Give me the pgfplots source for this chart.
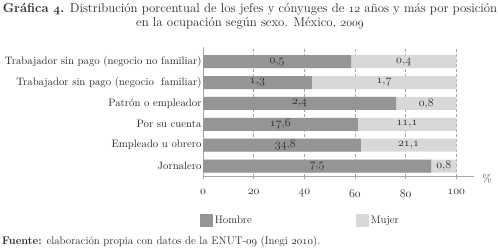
\documentclass[border=0pt]{standalone}
\usepackage{pgfplots}
\pgfplotsset{compat=1.18}
\definecolor{hombre}{RGB}{148,149,151}
\definecolor{mujer}{RGB}{214,216,218}
\definecolor{axisgray}{RGB}{165,165,165}
\definecolor{txt}{RGB}{40,40,40}
\DeclareRobustCommand{\on}[1]{\ensuremath{\mathnormal{#1}}}
\DeclareRobustCommand{\osn}[2]{\ensuremath{\mathnormal{#1}{,}\mathnormal{#2}}}
\begin{document}
\begin{tikzpicture}
\useasboundingbox (0bp,0bp) rectangle (498bp,252bp);
\node[txt, font=\fontsize{12.9}{15}\selectfont, inner sep=0pt] at (250bp,243bp) {\textbf{Gráfica {\boldmath\on{4}}.} Distribución porcentual de los jefes y cónyuges de \on{12} años y más por posición};
\node[txt, font=\fontsize{12.9}{15}\selectfont, inner sep=0pt] at (250bp,229bp) {en la ocupación según sexo. México, \on{2009}};
\node[txt, font=\fontsize{11}{13}\selectfont, inner sep=0pt, anchor=west] at (2bp,10bp) {\textbf{Fuente:} elaboración propia con datos de la ENUT-\on{09} (Inegi \on{2010}).};
\begin{axis}[
  at={(203bp,75.5bp)}, anchor=south west,
  scale only axis, width=271bp, height=129.5bp,
  xmin=0, xmax=107, ymin=-0.5, ymax=5.7,
  axis x line*=bottom, axis y line*=left,
  axis line style={axisgray, line width=0.6pt},
  xtick={0,20,40,60,80,100},
  xticklabels={\on{0},\on{20},\on{40},\on{60},\on{80},\on{100}},
  xtick align=center, major tick length=5bp,
  x tick style={axisgray, line width=0.6pt},
  xmajorgrids, grid style={axisgray, densely dashed, line width=0.5pt},
  ytick={0,1,2,3,4,5},
  yticklabels={Jornalero, Empleado u obrero, Por su cuenta, Patrón o empleador, Trabajador sin pago (negocio\ \ familiar), Trabajador sin pago (negocio no familiar)},
  y tick style={draw=none},
  tick label style={txt, font=\fontsize{10.8}{13}\selectfont},
  xticklabel style={yshift=-7bp, font=\fontsize{12.5}{14}\selectfont},
  yticklabel style={xshift=2bp},
  xlabel={\%},
  xlabel style={at={(axis description cs:1,0)}, anchor=west, xshift=5bp, yshift=-2bp, txt, font=\fontsize{11}{13}\selectfont},
  legend columns=2,
  legend style={draw=none, fill=none, at={(axis description cs:-0.012,-0.285)}, anchor=north west, inner sep=0pt, font=\fontsize{11}{13}\selectfont, text=txt,
    /tikz/every even column/.append style={column sep=102bp}},
  legend image code/.code={\fill[#1] (0bp,-6.5bp) rectangle (13bp,6.5bp);},
  legend cell align=left,
]
\addlegendimage{fill=hombre, draw=none}
\addlegendentry{Hombre}
\addlegendimage{fill=mujer, draw=none}
\addlegendentry{Mujer}
% Mujer (full width, drawn first)
\addplot[xbar, bar width=13bp, bar shift=0pt, fill=mujer, draw=none, forget plot] coordinates {
(100,0) (100,1) (100,2) (100,3) (100,4) (100,5)};
% Hombre share (%)
\addplot[xbar, bar width=13bp, bar shift=0pt, fill=hombre, draw=none, forget plot] coordinates {
(90.1,0) (62.3,1) (61.1,2) (76.3,3) (43.0,4) (58.5,5)};
% labels (values as printed)
\addplot[draw=none, mark=none, forget plot, nodes near coords, point meta=explicit symbolic,
  every node near coord/.style={anchor=center, txt, font=\fontsize{12.5}{14}\selectfont}] coordinates {
(45.05,0) [\osn{7}{5}]
(32.5,1) [\osn{34}{8}]
(30.55,2) [\osn{17}{6}]
(38.15,3) [\osn{2}{4}]
(21.5,4) [\osn{1}{3}]
(29.25,5) [\osn{0}{5}]
};
\addplot[draw=none, mark=none, forget plot, nodes near coords, point meta=explicit symbolic,
  every node near coord/.style={anchor=center, txt, font=\fontsize{12.5}{14}\selectfont}] coordinates {
(95.05,0) [\osn{0}{8}]
(81.15,1) [\osn{21}{1}]
(80.55,2) [\osn{11}{1}]
(88.15,3) [\osn{0}{8}]
(71.5,4) [\osn{1}{7}]
(79.25,5) [\osn{0}{4}]
};
\end{axis}
\end{tikzpicture}
\end{document}
